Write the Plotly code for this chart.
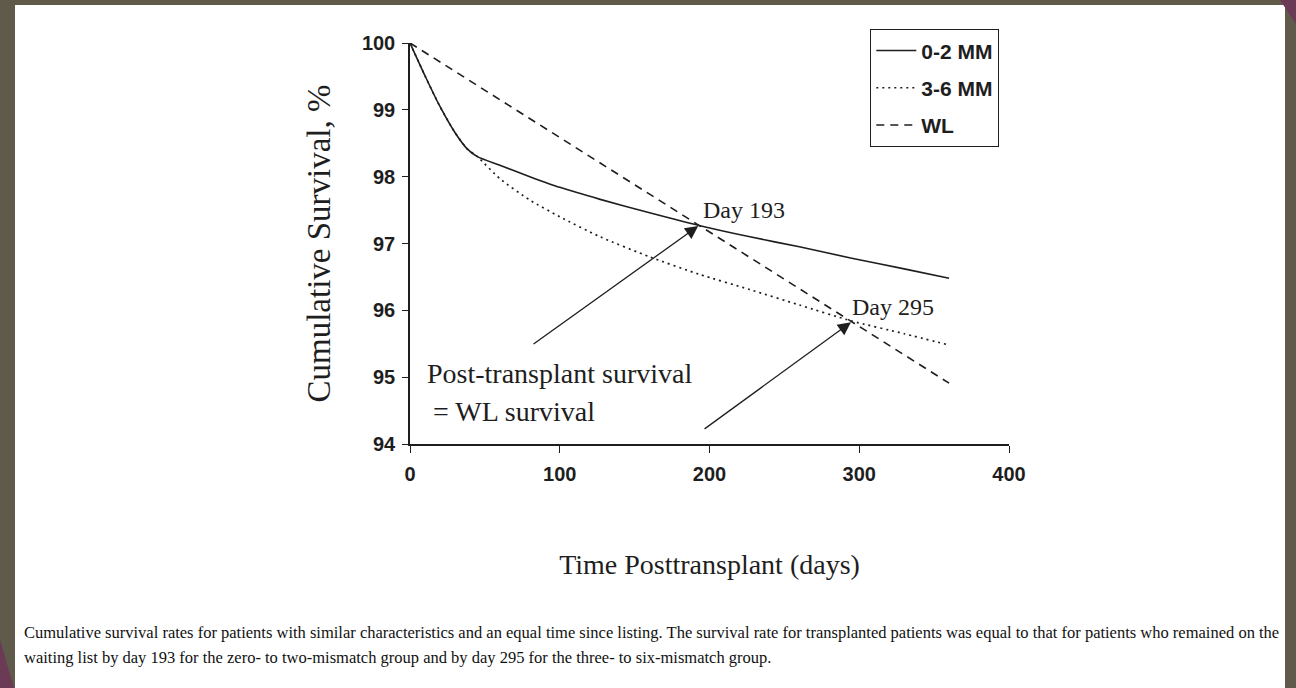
import plotly.graph_objects as go

# ---------------- data ----------------
days_mm = [0, 10, 20, 30, 38, 45, 60, 80, 100, 127, 160, 193, 227, 260, 295, 330, 360]
surv_02mm = [100, 99.51, 99.05, 98.66, 98.42, 98.30, 98.17, 98.00, 97.84, 97.66, 97.46,
             97.27, 97.10, 96.95, 96.78, 96.62, 96.48]
surv_36mm = [100, 99.51, 99.05, 98.66, 98.42, 98.30, 97.97, 97.65, 97.40, 97.10, 96.80,
             96.54, 96.31, 96.08, 95.84, 95.65, 95.48]
days_wl = [0, 193, 295, 360]
surv_wl = [100, 97.27, 95.83, 94.91]

series_names = ["0-2 MM", "3-6 MM", "WL"]
cross_days = [193, 295]
cross_vals = [97.27, 95.83]
arrow_tails = [(81.5, 95.48), (195.7, 94.21)]
x_ticks = [0, 100, 200, 300, 400]
y_ticks = [94, 95, 96, 97, 98, 99, 100]

caption1 = ("Cumulative survival rates for patients with similar characteristics and an equal time since "
            "listing. The survival rate for transplanted patients was equal to that for patients who remained on the")
caption2 = ("waiting list by day 193 for the zero- to two-mismatch group and by day 295 for the "
            "three- to six-mismatch group.")

# ---------------- layout helpers ----------------
W, H = 1296, 688
L, R, T, B = 410, 1009, 43, 444   # plot area in pixels


def px(x):
    return (x - L) / (R - L)


def py(y):
    return (B - y) / (B - T)


SERIF = "Liberation Serif, Times New Roman, serif"
SANS = "Liberation Sans, Arial, sans-serif"
INK = "#1e1e1e"
BORDER = "#5f5a4a"

fig = go.Figure()
fig.add_trace(go.Scatter(x=days_mm, y=surv_02mm, mode="lines", name=series_names[0],
                         legendgroup="a",
                         line=dict(color=INK, width=1.6, shape="spline", smoothing=0.6)))
fig.add_trace(go.Scatter(x=days_mm, y=surv_36mm, mode="lines", name=series_names[1],
                         legendgroup="b",
                         line=dict(color=INK, width=1.7, dash="2px,4px", shape="spline", smoothing=0.6)))
fig.add_trace(go.Scatter(x=days_wl, y=surv_wl, mode="lines", name=series_names[2],
                         legendgroup="c",
                         line=dict(color=INK, width=1.6, dash="8px,6px")))

# arrows to crossover points
for (tx, ty), cx, cv in zip(arrow_tails, cross_days, cross_vals):
    fig.add_annotation(x=cx, y=cv, ax=tx, ay=ty, xref="x", yref="y", axref="x", ayref="y",
                       text="", showarrow=True, arrowhead=2, arrowsize=2.0, arrowwidth=1.3,
                       arrowcolor=INK, standoff=1)

fig.add_annotation(x=223, y=97.50, xref="x", yref="y", text=f"Day {cross_days[0]}", showarrow=False,
                   yanchor="middle", font=dict(family=SERIF, size=24, color=INK))
fig.add_annotation(x=322.5, y=96.05, xref="x", yref="y", text=f"Day {cross_days[1]}", showarrow=False,
                   yanchor="middle", font=dict(family=SERIF, size=24, color=INK))
fig.add_annotation(x=px(425), y=py(373), xref="paper", yref="paper", text="Post-transplant survival",
                   showarrow=False, xanchor="left", yanchor="middle",
                   font=dict(family=SERIF, size=28, color=INK))
fig.add_annotation(x=px(431), y=py(411), xref="paper", yref="paper", text="= WL survival",
                   showarrow=False, xanchor="left", yanchor="middle",
                   font=dict(family=SERIF, size=28, color=INK))

# caption
fig.add_annotation(x=px(22), y=py(632), xref="paper", yref="paper", text=caption1, showarrow=False,
                   xanchor="left", yanchor="middle", font=dict(family=SERIF, size=16.5, color="#111"))
fig.add_annotation(x=px(22), y=py(657), xref="paper", yref="paper", text=caption2, showarrow=False,
                   xanchor="left", yanchor="middle", font=dict(family=SERIF, size=16.5, color="#111"))

# frame: white panel on dark border, purple corner accents
fig.add_shape(type="rect", xref="paper", yref="paper", x0=px(15), x1=px(1285), y0=py(700), y1=py(5),
              fillcolor="white", line=dict(width=0), layer="below")
fig.add_shape(type="path", xref="paper", yref="paper",
              path=f"M {px(1280)} {py(0)} L {px(1296)} {py(0)} L {px(1296)} {py(24)} Z",
              fillcolor="#6b3a55", line=dict(width=0), layer="below")
fig.add_shape(type="path", xref="paper", yref="paper",
              path=f"M {px(0)} {py(640)} L {px(14)} {py(688)} L {px(0)} {py(688)} Z",
              fillcolor="#6b3a55", line=dict(width=0), layer="below")

fig.update_layout(
    width=W, height=H,
    margin=dict(l=L, r=W - R, t=T, b=H - B, autoexpand=False),
    paper_bgcolor=BORDER,
    plot_bgcolor="white",
    showlegend=True,
    legend=dict(x=px(870), y=py(29), xanchor="left", yanchor="top",
                bgcolor="white", bordercolor=INK, borderwidth=1.3,
                font=dict(family=SANS, size=21, color=INK, weight="bold"),
                tracegroupgap=7, traceorder="grouped", itemwidth=40),
    xaxis=dict(range=[0, 400], tickvals=x_ticks, showgrid=False, zeroline=False,
               showline=True, linecolor=INK, linewidth=1.5, ticks="outside", ticklen=7,
               tickcolor=INK, tickwidth=1.3, ticklabelstandoff=4,
               tickfont=dict(family=SANS, size=20, color=INK, weight="bold"),
               title=dict(text="Time Posttransplant (days)", standoff=71,
                          font=dict(family=SERIF, size=28, color=INK))),
    yaxis=dict(range=[94, 100], tickvals=y_ticks, showgrid=False, zeroline=False,
               showline=True, linecolor=INK, linewidth=1.5, ticks="outside", ticklen=6,
               tickcolor=INK, tickwidth=1.3, ticklabelstandoff=3,
               tickfont=dict(family=SANS, size=20, color=INK, weight="bold"),
               title=dict(text="Cumulative Survival, %", standoff=21,
                          font=dict(family=SERIF, size=33, color=INK))),
)

fig.write_html("out.html",
               config={"displayModeBar": False},
               post_script="document.body.style.margin='0px';"
                           "document.body.style.background='" + BORDER + "';")
